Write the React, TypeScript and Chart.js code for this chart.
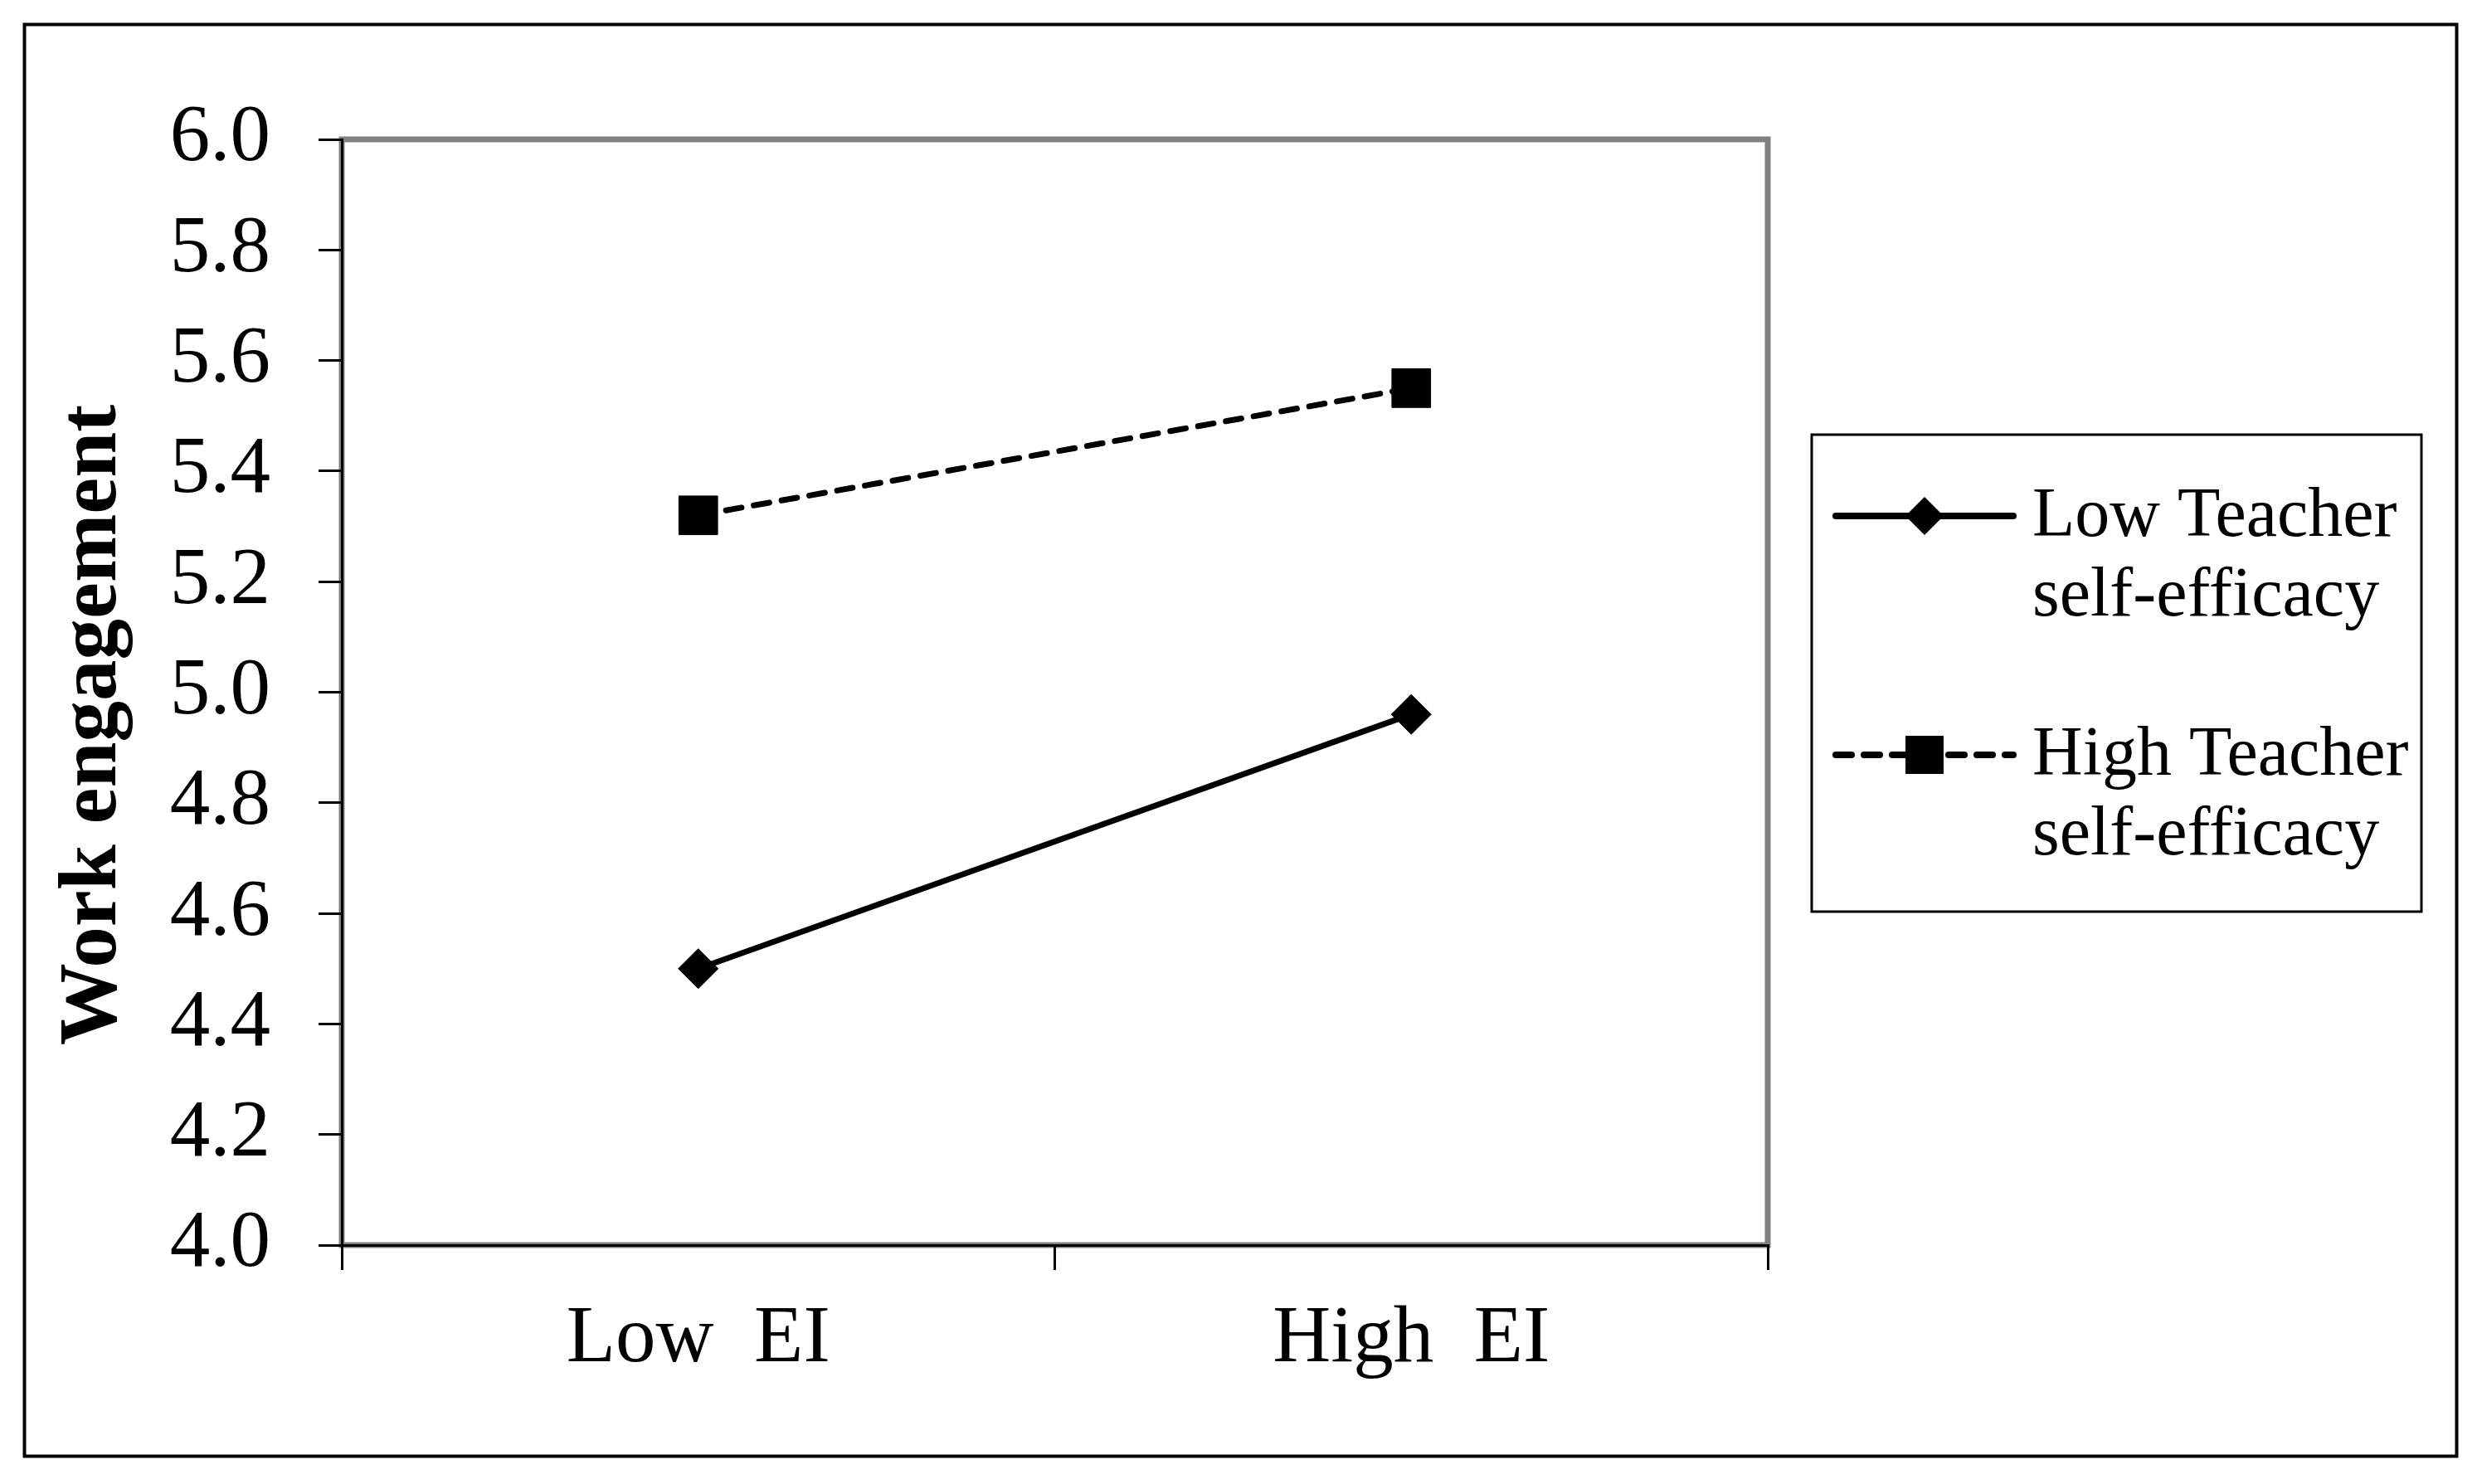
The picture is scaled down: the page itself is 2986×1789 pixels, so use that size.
import React, { useEffect, useRef } from 'react';
import { Chart, registerables } from 'chart.js';

Chart.register(...registerables);

// ---- data ----
const categories = ['Low  EI', 'High  EI'];
const lowTeacherSE = [4.5, 4.96];
const highTeacherSE = [5.32, 5.55];
const seriesNames = ['Low Teacher self-efficacy', 'High Teacher self-efficacy'];
const legendLines = [
  ['Low Teacher', 'self-efficacy'],
  ['High Teacher', 'self-efficacy'],
];
const yMin = 4.0;
const yMax = 6.0;
const yStep = 0.2;
const yAxisTitle = 'Work engagement';

// ---- layout / style ----
const W = 2986;
const H = 1789;
const SERIF = "'Liberation Serif', 'Times New Roman', serif";

const decorPlugin = {
  id: 'decor',
  beforeDraw(chart: any) {
    const { ctx, chartArea: a } = chart;
    ctx.save();
    // outer border
    ctx.strokeStyle = '#000';
    ctx.lineWidth = 4;
    ctx.strokeRect(29.5, 29.5, 2932, 1726);
    // grey plot-area frame
    ctx.strokeStyle = '#808080';
    ctx.lineWidth = 7;
    ctx.strokeRect(a.left, a.top, a.right - a.left, a.bottom - a.top);
    ctx.restore();
  },
  afterDraw(chart: any) {
    const { ctx } = chart;
    ctx.save();
    // y-axis title
    ctx.translate(113, 874);
    ctx.rotate(-Math.PI / 2);
    ctx.font = `bold 99px ${SERIF}`;
    ctx.fillStyle = '#000';
    ctx.textAlign = 'center';
    ctx.textBaseline = 'middle';
    ctx.fillText(yAxisTitle, 0, 0);
    ctx.restore();

    // legend
    ctx.save();
    ctx.strokeStyle = '#000';
    ctx.lineWidth = 3;
    ctx.strokeRect(2184, 524, 735, 575);
    const rowY = [622, 910];
    chart.data.datasets.forEach((ds: any, i: number) => {
      const y = rowY[i];
      ctx.save();
      ctx.strokeStyle = '#000';
      ctx.lineWidth = 8;
      ctx.lineCap = 'round';
      ctx.setLineDash(ds.borderDash || []);
      ctx.beginPath();
      ctx.moveTo(2213, y);
      ctx.lineTo(2427, y);
      ctx.stroke();
      ctx.setLineDash([]);
      ctx.fillStyle = '#000';
      const cx = 2320;
      ctx.beginPath();
      if (ds.pointStyle === 'rectRot') {
        const r = 23;
        ctx.moveTo(cx, y - r);
        ctx.lineTo(cx + r, y);
        ctx.lineTo(cx, y + r);
        ctx.lineTo(cx - r, y);
        ctx.closePath();
      } else {
        const s = 23;
        ctx.rect(cx - s, y - s, 2 * s, 2 * s);
      }
      ctx.fill();
      ctx.restore();
      ctx.font = `84px ${SERIF}`;
      ctx.fillStyle = '#000';
      ctx.textAlign = 'left';
      ctx.textBaseline = 'middle';
      legendLines[i].forEach((t, k) => ctx.fillText(t, 2450, y + 2 + k * 96));
    });
    ctx.restore();
  },
};

export default function App() {
  const ref = useRef<HTMLCanvasElement>(null);

  useEffect(() => {
    document.body.style.margin = '0';
    const canvas = ref.current!;
    const chart = new Chart(canvas, {
      type: 'line',
      data: {
        labels: categories,
        datasets: [
          {
            label: seriesNames[0],
            data: lowTeacherSE,
            borderColor: '#000',
            backgroundColor: '#000',
            borderWidth: 7,
            pointStyle: 'rectRot',
            pointRadius: 24,
            pointBackgroundColor: '#000',
            pointBorderColor: '#000',
            pointBorderWidth: 1,
            fill: false,
            tension: 0,
          },
          {
            label: seriesNames[1],
            data: highTeacherSE,
            borderColor: '#000',
            backgroundColor: '#000',
            borderWidth: 7,
            borderDash: [19, 15],
            borderCapStyle: 'round',
            pointStyle: 'rect',
            pointRadius: 33,
            pointBackgroundColor: '#000',
            pointBorderColor: '#000',
            pointBorderWidth: 1,
            fill: false,
            tension: 0,
          },
        ],
      },
      options: {
        responsive: false,
        animation: false,
        devicePixelRatio: 1,
        layout: { padding: { left: 0, top: 168, right: W - 2131, bottom: 0 } },
        plugins: {
          legend: { display: false },
          tooltip: { enabled: false },
          title: { display: false },
        },
        scales: {
          x: {
            type: 'category',
            offset: true,
            grid: {
              offset: true,
              drawOnChartArea: false,
              drawTicks: true,
              tickLength: 30,
              color: '#000',
              lineWidth: 3,
            },
            border: { display: true, color: '#000', width: 3 },
            ticks: {
              color: '#000',
              padding: 26,
              font: { family: SERIF, size: 97 },
              maxRotation: 0,
              autoSkip: false,
            },
            afterFit(scale: any) {
              scale.height = H - 1501;
            },
          },
          y: {
            min: yMin,
            max: yMax,
            grid: {
              drawOnChartArea: false,
              drawTicks: true,
              tickLength: 28,
              color: '#000',
              lineWidth: 3,
            },
            border: { display: true, color: '#000', width: 3 },
            ticks: {
              stepSize: yStep,
              color: '#000',
              padding: 58,
              font: { family: SERIF, size: 97 },
              callback: (v: any) => Number(v).toFixed(1),
            },
            afterFit(scale: any) {
              scale.width = 412;
            },
          },
        },
      },
      plugins: [decorPlugin],
    } as any);
    return () => chart.destroy();
  }, []);

  return <canvas ref={ref} width={W} height={H} style={{ display: 'block', width: W, height: H }} />;
}
